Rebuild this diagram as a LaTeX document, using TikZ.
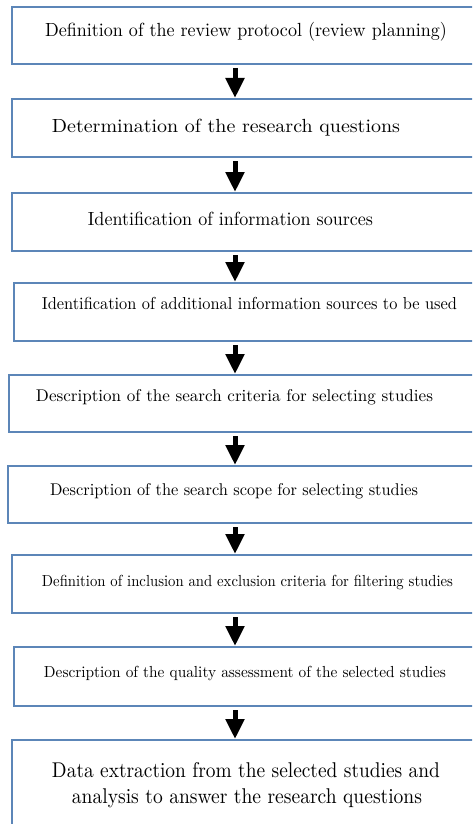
\documentclass[tikz,border=0pt]{standalone}
\usetikzlibrary{arrows.meta}
\definecolor{boxblue}{RGB}{92,134,184}
\newcommand{\fitText}[3]{\resizebox{#1pt}{#2pt}{\vphantom{(}#3}}
\begin{document}
\begin{tikzpicture}[x=1pt,y=1pt,
  box/.style={draw=boxblue, line width=2pt, rectangle, anchor=north west, outer sep=0pt, inner sep=0pt, minimum width=480pt},
  txt/.style={inner sep=0pt, anchor=center},
  arr/.style={line width=5pt, -{Triangle[width=18pt,length=20pt]}, shorten <=4pt, shorten >=1pt}]
\useasboundingbox (0,0) rectangle (472,-824);
\clip (0,0) rectangle (472,-824);
\fill[white] (0,0) rectangle (472,-824);
% boxes
\node[box, minimum height=57pt] (b1) at (12,-7) {};
\node[box, minimum height=58pt] (b2) at (12,-99) {};
\node[box, minimum height=58pt] (b3) at (12,-193) {};
\node[box, minimum height=58pt] (b4) at (14,-283) {};
\node[box, minimum height=57pt] (b5) at (9,-375) {};
\node[box, minimum height=57pt] (b6) at (8,-466) {};
\node[box, minimum height=58pt] (b7) at (12,-555) {};
\node[box, minimum height=59pt] (b8) at (14,-647) {};
\node[box, minimum height=110pt] (b9) at (12,-740) {};
% texts
\node[txt] (t1) at (246,-32) {\fitText{402}{14.25}{Definition of the review protocol (review planning)}};
\node[txt] (t2) at (226,-128) {\fitText{348}{14.25}{Determination of the research questions}};
\node[txt] (t3) at (230.5,-221) {\fitText{285}{14.25}{Identification of information sources}};
\node[txt] (t4) at (249.5,-305) {\fitText{415}{13}{Identification of additional information sources to be used}};
\node[txt] (t5) at (234.5,-397) {\fitText{397}{12.75}{Description of the search criteria for selecting studies}};
\node[txt] (t6) at (234,-491) {\fitText{368}{12.75}{Description of the search scope for selecting studies}};
\node[txt] (t7) at (247.5,-582) {\fitText{411}{12}{Definition of inclusion and exclusion criteria for filtering studies}};
\node[txt] (t8) at (245,-673) {\fitText{402}{12}{Description of the quality assessment of the selected studies}};
\node[txt] (t9a) at (246,-772) {\fitText{388}{16}{Data extraction from the selected studies and}};
\node[txt] (t9b) at (247,-798) {\fitText{350}{16}{analysis to answer the research questions}};
% arrows
\coordinate (ax) at (235,0);
\draw[arr] (b1.south -| ax) -- (b2.north -| ax);
\draw[arr] (b2.south -| ax) -- (b3.north -| ax);
\draw[arr] (b3.south -| ax) -- (b4.north -| ax);
\draw[arr] (b4.south -| ax) -- (b5.north -| ax);
\draw[arr] (b5.south -| ax) -- (b6.north -| ax);
\draw[arr] (b6.south -| ax) -- (b7.north -| ax);
\draw[arr] (b7.south -| ax) -- (b8.north -| ax);
\draw[arr] (b8.south -| ax) -- (b9.north -| ax);
\end{tikzpicture}
\end{document}
